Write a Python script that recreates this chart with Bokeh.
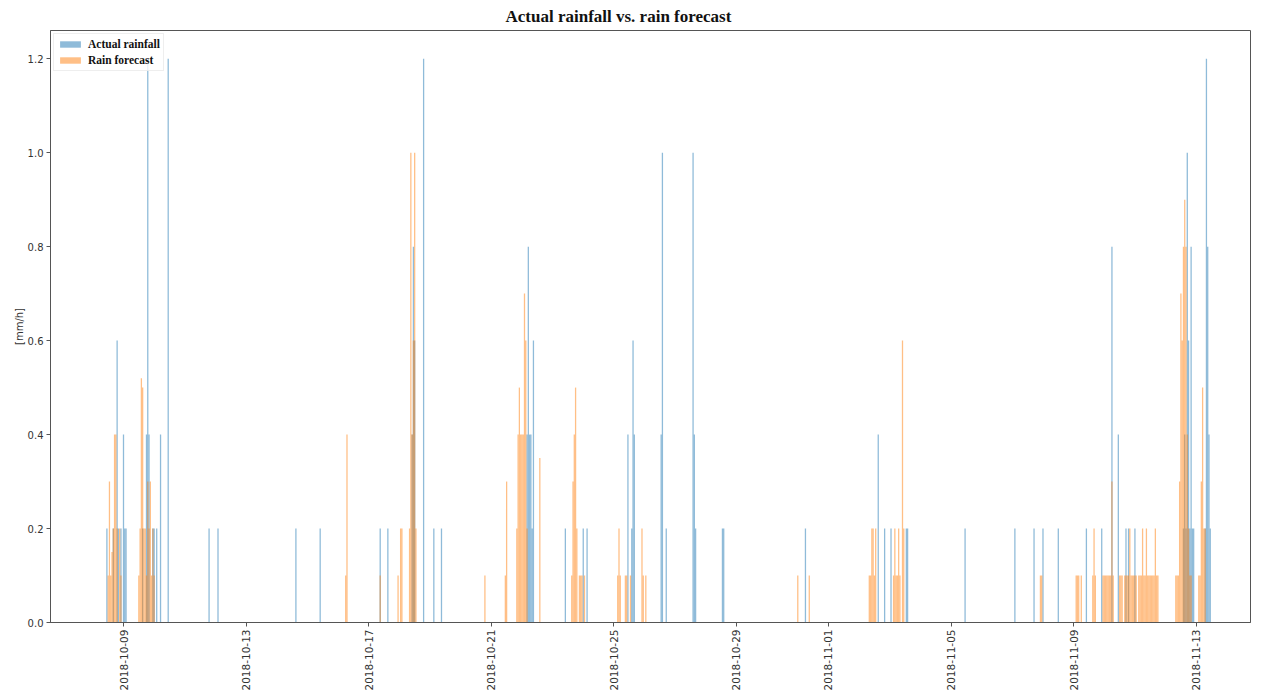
import math
import pandas as pd
from bokeh.plotting import figure
from bokeh.models import (Range1d, DaysTicker, DatetimeTickFormatter,
                          FixedTicker, PrintfTickFormatter, ColumnDataSource)
from bokeh.embed import file_html
from bokeh.resources import INLINE

# ---------------- data (hourly, only non-zero hours listed) ----------------
actual_times = [
    "2018-10-08 11:00", "2018-10-08 16:00", "2018-10-08 19:00", "2018-10-08 20:00",
    "2018-10-08 22:00", "2018-10-09 00:00", "2018-10-09 01:00", "2018-10-09 02:00",
    "2018-10-09 15:00", "2018-10-09 18:00", "2018-10-09 19:00", "2018-10-09 20:00",
    "2018-10-09 23:00", "2018-10-10 00:00", "2018-10-10 02:00", "2018-10-10 05:00",
    "2018-10-10 11:00", "2018-10-11 19:00", "2018-10-12 02:00", "2018-10-14 15:00",
    "2018-10-15 10:00", "2018-10-17 09:00", "2018-10-17 15:00", "2018-10-18 10:00",
    "2018-10-18 11:00", "2018-10-18 12:00", "2018-10-18 19:00", "2018-10-19 03:00",
    "2018-10-19 09:00", "2018-10-22 04:00", "2018-10-22 05:00", "2018-10-22 06:00",
    "2018-10-22 07:00", "2018-10-22 08:00", "2018-10-22 09:00", "2018-10-23 10:00",
    "2018-10-24 00:00", "2018-10-24 03:00", "2018-10-25 11:00", "2018-10-25 14:00",
    "2018-10-25 15:00", "2018-10-25 16:00", "2018-10-26 13:00", "2018-10-26 14:00",
    "2018-10-26 17:00", "2018-10-27 14:00", "2018-10-27 15:00", "2018-10-27 16:00",
    "2018-10-28 13:00", "2018-10-28 14:00", "2018-10-31 06:00", "2018-11-02 15:00",
    "2018-11-02 20:00", "2018-11-03 01:00", "2018-11-03 13:00", "2018-11-03 14:00",
    "2018-11-05 11:00", "2018-11-07 02:00", "2018-11-07 17:00", "2018-11-08 00:00",
    "2018-11-08 12:00", "2018-11-09 10:00", "2018-11-09 22:00", "2018-11-10 06:00",
    "2018-11-10 11:00", "2018-11-10 17:00", "2018-11-10 19:00", "2018-11-11 00:00",
    "2018-11-12 14:00", "2018-11-12 15:00", "2018-11-12 16:00", "2018-11-12 17:00",
    "2018-11-12 18:00", "2018-11-12 19:00", "2018-11-12 20:00", "2018-11-12 21:00",
    "2018-11-12 22:00", "2018-11-13 07:00", "2018-11-13 08:00", "2018-11-13 09:00",
    "2018-11-13 10:00", "2018-11-13 11:00",
]
actual_mm = [
    0.2, 0.2, 0.6, 0.2,
    0.2, 0.4, 0.2, 0.2,
    0.2, 0.4, 1.2, 0.4,
    0.2, 0.2, 0.2, 0.4,
    1.2, 0.2, 0.2, 0.2,
    0.2, 0.2, 0.2, 0.4,
    0.8, 0.6, 1.2, 0.2,
    0.2, 0.4, 0.8, 0.4,
    0.4, 0.2, 0.6, 0.2,
    0.2, 0.2, 0.4, 0.2,
    0.6, 0.4, 0.4, 1.0,
    0.2, 1.0, 0.4, 0.2,
    0.2, 0.2, 0.2, 0.4,
    0.2, 0.2, 0.2, 0.2,
    0.2, 0.2, 0.2, 0.2,
    0.2, 0.2, 0.2, 0.8,
    0.4, 0.2, 0.2, 0.2,
    0.2, 0.4, 0.2, 1.0,
    0.6, 0.2, 0.8, 0.2,
    0.2, 0.2, 1.2, 0.8,
    0.4, 0.2,
]

forecast_times = [
    "2018-10-08 12:00", "2018-10-08 13:00", "2018-10-08 14:00", "2018-10-08 15:00",
    "2018-10-08 16:00", "2018-10-08 17:00", "2018-10-08 18:00", "2018-10-08 19:00",
    "2018-10-08 21:00", "2018-10-08 22:00", "2018-10-09 12:00", "2018-10-09 13:00",
    "2018-10-09 14:00", "2018-10-09 15:00", "2018-10-09 16:00", "2018-10-09 17:00",
    "2018-10-09 18:00", "2018-10-09 19:00", "2018-10-09 20:00", "2018-10-09 21:00",
    "2018-10-09 22:00", "2018-10-09 23:00", "2018-10-10 00:00", "2018-10-16 06:00",
    "2018-10-16 07:00", "2018-10-17 09:00", "2018-10-17 23:00", "2018-10-18 01:00",
    "2018-10-18 02:00", "2018-10-18 08:00", "2018-10-18 09:00", "2018-10-18 10:00",
    "2018-10-18 11:00", "2018-10-18 12:00", "2018-10-18 13:00", "2018-10-20 19:00",
    "2018-10-21 11:00", "2018-10-21 12:00", "2018-10-21 20:00", "2018-10-21 21:00",
    "2018-10-21 22:00", "2018-10-21 23:00", "2018-10-22 00:00", "2018-10-22 01:00",
    "2018-10-22 02:00", "2018-10-22 03:00", "2018-10-22 04:00", "2018-10-22 14:00",
    "2018-10-23 15:00", "2018-10-23 16:00", "2018-10-23 17:00", "2018-10-23 18:00",
    "2018-10-23 19:00", "2018-10-23 21:00", "2018-10-23 22:00", "2018-10-23 23:00",
    "2018-10-24 01:00", "2018-10-25 03:00", "2018-10-25 04:00", "2018-10-25 05:00",
    "2018-10-25 09:00", "2018-10-25 10:00", "2018-10-25 13:00", "2018-10-25 22:00",
    "2018-10-25 23:00", "2018-10-26 01:00", "2018-10-31 00:00", "2018-10-31 09:00",
    "2018-11-02 08:00", "2018-11-02 09:00", "2018-11-02 10:00", "2018-11-02 11:00",
    "2018-11-02 12:00", "2018-11-02 13:00", "2018-11-03 03:00", "2018-11-03 04:00",
    "2018-11-03 05:00", "2018-11-03 06:00", "2018-11-03 07:00", "2018-11-03 08:00",
    "2018-11-03 10:00", "2018-11-03 11:00", "2018-11-07 22:00", "2018-11-07 23:00",
    "2018-11-09 02:00", "2018-11-09 03:00", "2018-11-09 04:00", "2018-11-09 06:00",
    "2018-11-09 15:00", "2018-11-09 16:00", "2018-11-09 17:00", "2018-11-09 23:00",
    "2018-11-10 00:00", "2018-11-10 01:00", "2018-11-10 02:00", "2018-11-10 03:00",
    "2018-11-10 04:00", "2018-11-10 05:00", "2018-11-10 06:00", "2018-11-10 07:00",
    "2018-11-10 12:00", "2018-11-10 13:00", "2018-11-10 14:00", "2018-11-10 16:00",
    "2018-11-10 17:00", "2018-11-10 18:00", "2018-11-10 19:00", "2018-11-10 20:00",
    "2018-11-10 21:00", "2018-11-10 22:00", "2018-11-10 23:00", "2018-11-11 00:00",
    "2018-11-11 01:00", "2018-11-11 03:00", "2018-11-11 04:00", "2018-11-11 05:00",
    "2018-11-11 06:00", "2018-11-11 07:00", "2018-11-11 08:00", "2018-11-11 09:00",
    "2018-11-11 10:00", "2018-11-11 11:00", "2018-11-11 12:00", "2018-11-11 13:00",
    "2018-11-11 14:00", "2018-11-11 15:00", "2018-11-11 16:00", "2018-11-11 17:00",
    "2018-11-11 18:00", "2018-11-12 08:00", "2018-11-12 09:00", "2018-11-12 10:00",
    "2018-11-12 11:00", "2018-11-12 12:00", "2018-11-12 13:00", "2018-11-12 14:00",
    "2018-11-12 15:00", "2018-11-12 16:00", "2018-11-12 17:00", "2018-11-12 18:00",
    "2018-11-12 19:00", "2018-11-12 20:00", "2018-11-13 02:00", "2018-11-13 03:00",
    "2018-11-13 04:00", "2018-11-13 05:00", "2018-11-13 06:00", "2018-11-13 07:00",
]
forecast_mm = [
    0.1, 0.3, 0.1, 0.15,
    0.2, 0.4, 0.4, 0.2,
    0.2, 0.1, 0.1, 0.2,
    0.52, 0.5, 0.2, 0.2,
    0.1, 0.3, 0.2, 0.3,
    0.1, 0.2, 0.1, 0.1,
    0.4, 0.1, 0.1, 0.2,
    0.2, 0.2, 1.0, 0.4,
    0.6, 1.0, 0.2, 0.1,
    0.1, 0.3, 0.2, 0.4,
    0.5, 0.4, 0.4, 0.4,
    0.7, 0.6, 0.2, 0.35,
    0.1, 0.3, 0.4, 0.5,
    0.2, 0.1, 0.1, 0.1,
    0.1, 0.1, 0.2, 0.1,
    0.1, 0.1, 0.1, 0.2,
    0.1, 0.1, 0.1, 0.1,
    0.1, 0.1, 0.2, 0.2,
    0.1, 0.2, 0.1, 0.2,
    0.1, 0.1, 0.2, 0.1,
    0.6, 0.2, 0.1, 0.1,
    0.1, 0.1, 0.1, 0.1,
    0.1, 0.2, 0.1, 0.1,
    0.1, 0.1, 0.1, 0.1,
    0.1, 0.1, 0.3, 0.1,
    0.1, 0.1, 0.1, 0.1,
    0.1, 0.1, 0.1, 0.2,
    0.1, 0.1, 0.1, 0.1,
    0.1, 0.1, 0.1, 0.1,
    0.2, 0.1, 0.1, 0.2,
    0.1, 0.1, 0.1, 0.1,
    0.1, 0.1, 0.2, 0.1,
    0.1, 0.1, 0.1, 0.1,
    0.3, 0.7, 0.6, 0.8,
    0.9, 0.8, 0.4, 0.2,
    0.1, 0.1, 0.1, 0.1,
    0.3, 0.5, 0.2, 0.2,
]

y_ticks = [0.0, 0.2, 0.4, 0.6, 0.8, 1.0, 1.2]
tick_days = [1, 5, 9, 13, 17, 21, 25, 29]

# ---------------- figure ----------------
x_start = pd.Timestamp("2018-10-06 14:50")
x_end = pd.Timestamp("2018-11-14 18:30")

p = figure(width=1252, height=693, output_backend="svg", toolbar_location=None,
           x_axis_type="datetime",
           x_range=Range1d(x_start, x_end), y_range=Range1d(0, 1.26),
           min_border_left=50, min_border_right=2, min_border_bottom=65,
           min_border_top=10)

p.title.text = "Actual rainfall vs. rain forecast"
p.title.align = "left"
p.title.offset = 455
p.title.text_font = "Liberation Serif"
p.title.text_font_style = "bold"
p.title.text_font_size = "17px"
p.title.text_color = "#111111"
p.title.standoff = 9

bar_w = 3600 * 1000  # one hour in ms
src_a = ColumnDataSource(dict(t=pd.to_datetime(actual_times), v=actual_mm))
src_f = ColumnDataSource(dict(t=pd.to_datetime(forecast_times), v=forecast_mm))

p.vbar(x="t", top="v", width=bar_w, source=src_a, fill_color="#1f77b4",
       fill_alpha=0.5, line_color=None, legend_label="Actual rainfall")
p.vbar(x="t", top="v", width=bar_w, source=src_f, fill_color="#ff7f0e",
       fill_alpha=0.5, line_color=None, legend_label="Rain forecast")

# axes
p.xgrid.visible = False
p.ygrid.visible = False
p.outline_line_color = "#555555"
p.outline_line_width = 1

p.xaxis.ticker = DaysTicker(days=tick_days)
p.xaxis.formatter = DatetimeTickFormatter(days="%Y-%m-%d", months="%Y-%m-%d",
                                          hours="%Y-%m-%d")
p.xaxis.major_label_orientation = math.pi / 2
p.yaxis.ticker = FixedTicker(ticks=y_ticks)
p.yaxis.formatter = PrintfTickFormatter(format="%.1f")
p.yaxis.axis_label = "[mm/h]"

for ax in (p.xaxis, p.yaxis):
    ax.axis_line_color = "#555555"
    ax.major_tick_line_color = "#555555"
    ax.minor_tick_line_color = None
    ax.major_tick_in = 0
    ax.major_tick_out = 4
    ax.major_label_text_font = "DejaVu Sans"
    ax.major_label_text_font_size = "10px"
    ax.major_label_text_color = "#333333"
    ax.major_label_standoff = 3
p.xaxis.major_label_text_font_size = "10.5px"
p.yaxis.axis_label_text_font = "DejaVu Sans"
p.yaxis.axis_label_text_font_size = "10px"
p.yaxis.axis_label_text_font_style = "normal"
p.yaxis.axis_label_text_color = "#333333"
p.yaxis.axis_label_standoff = 0

# legend
p.legend.location = "top_left"
p.legend.margin = 3
p.legend.padding = 3
p.legend.spacing = 2
p.legend.glyph_width = 26
p.legend.glyph_height = 8
p.legend.label_height = 14
p.legend.label_standoff = 5
p.legend.label_text_font = "Liberation Serif"
p.legend.label_text_font_style = "bold"
p.legend.label_text_font_size = "11.5px"
p.legend.label_text_color = "#111111"
p.legend.border_line_color = "#dddddd"
p.legend.background_fill_alpha = 0.8

open("out.html", "w").write(file_html(p, INLINE))
